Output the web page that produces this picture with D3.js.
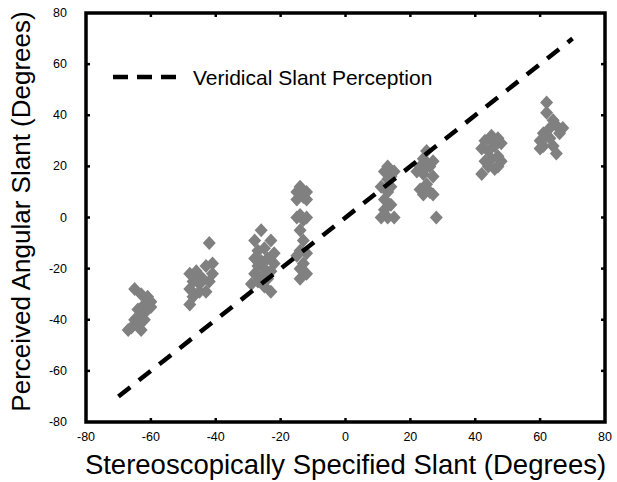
<!DOCTYPE html>
<html>
<head>
<meta charset="utf-8">
<script src="https://cdn.jsdelivr.net/npm/d3@7"></script>
<style>
  body { margin: 0; background: #fff; }
  text { font-family: "Liberation Sans", Arial, Helvetica, sans-serif; fill: #000; }
</style>
</head>
<body>
<div id="svg-area"></div>
<script>
// tick values for both axes
var xTicks = [-80, -60, -40, -20, 0, 20, 40, 60, 80];
var yTicks = [-80, -60, -40, -20, 0, 20, 40, 60, 80];

// veridical line end points (specified slant = perceived slant)
var veridical = [-70, 70];

// perceived slant for each specified slant condition, [specified, perceived]
var slant65 = [[-65, -28], [-63, -30], [-61, -31], [-60, -33], [-62, -34], [-64, -36], [-61, -36], [-63, -38],
    [-65, -40], [-62, -40], [-64, -42], [-66, -43], [-67, -44], [-63, -44], [-61, -32], [-60, -35]];
var slant45 = [[-42, -10], [-48, -22], [-46, -21], [-43, -19], [-41, -18], [-41, -22], [-44, -24], [-47, -25],
    [-45, -26], [-42, -25], [-48, -28], [-45, -29], [-47, -31], [-43, -29], [-48, -34], [-45, -23]];
var slant27 = [[-26, -5], [-28, -9], [-23, -9], [-27, -13], [-25, -12], [-22, -14], [-28, -16], [-26, -17],
    [-24, -16], [-22, -18], [-27, -19], [-25, -20], [-23, -21], [-28, -22], [-26, -23], [-24, -24],
    [-29, -26], [-27, -25], [-23, -29], [-25, -27]];
var slant13 = [[-14, 12], [-15, 10], [-12, 10], [-13, 8], [-15, 7], [-12, 7], [-14, 1], [-15, 0], [-12, 0],
    [-13, -1], [-14, -5], [-13, -9], [-14, -13], [-15, -15], [-12, -14], [-13, -18], [-14, -20], [-12, -22], [-14, -24]];
var slantP13 = [[13, 20], [12, 18], [15, 18], [13, 15], [11, 12], [14, 12], [13, 10], [12, 7], [14, 5],
    [11, 0], [13, 0], [15, 0], [12, 3], [14, 16]];
var slantP25 = [[25, 26], [24, 23], [27, 22], [23, 20], [26, 20], [24, 17], [27, 16], [25, 13], [23, 11],
    [26, 10], [24, 9], [27, 9], [22, 18], [28, 0], [25, 20]];
var slantP45 = [[43, 30], [45, 32], [47, 31], [42, 27], [44, 26], [46, 28], [48, 29], [43, 22], [45, 23],
    [47, 24], [44, 20], [46, 19], [48, 22], [42, 17], [45, 30], [47, 20]];
var slantP63 = [[62, 45], [62, 41], [64, 38], [65, 36], [67, 35], [61, 33], [60, 30], [63, 31], [61, 28],
    [64, 28], [62, 32], [65, 25], [63, 35], [66, 33], [60, 27]];

var allPoints = [].concat(slant65, slant45, slant27, slant13, slantP13, slantP25, slantP45, slantP63);

// define dimensions of svg container
var svgWidth = 617;
var svgHeight = 482;

var margin = { top: 13, right: 12, bottom: 60, left: 86 };
var chartWidth = svgWidth - margin.left - margin.right;
var chartHeight = svgHeight - margin.top - margin.bottom;

var svg = d3.select("#svg-area").append("svg")
    .attr("width", svgWidth)
    .attr("height", svgHeight);

var chartGroup = svg.append("g")
    .attr("transform", `translate(${margin.left}, ${margin.top})`);

// scales
var xLinearScale = d3.scaleLinear().domain([-80, 80]).range([0, chartWidth]);
var yLinearScale = d3.scaleLinear().domain([-80, 80]).range([chartHeight, 0]);

// inward ticks on all four sides
var tickLen = 4;
var innerTicks = xTicks.slice(1, -1);
var tickGroup = chartGroup.append("g").attr("stroke", "#000").attr("stroke-width", 2.5);

innerTicks.forEach(function (t) {
    tickGroup.append("line")
        .attr("x1", xLinearScale(t)).attr("x2", xLinearScale(t))
        .attr("y1", chartHeight).attr("y2", chartHeight - tickLen);
    tickGroup.append("line")
        .attr("x1", xLinearScale(t)).attr("x2", xLinearScale(t))
        .attr("y1", 0).attr("y2", tickLen);
    tickGroup.append("line")
        .attr("x1", 0).attr("x2", tickLen)
        .attr("y1", yLinearScale(t)).attr("y2", yLinearScale(t));
    tickGroup.append("line")
        .attr("x1", chartWidth).attr("x2", chartWidth - tickLen)
        .attr("y1", yLinearScale(t)).attr("y2", yLinearScale(t));
});

// tick labels
chartGroup.selectAll(".xlab")
    .data(xTicks)
    .enter()
    .append("text")
    .attr("class", "xlab")
    .attr("x", d => xLinearScale(d))
    .attr("y", chartHeight + 19)
    .attr("text-anchor", "middle")
    .attr("font-size", "12.5px")
    .text(d => d);

chartGroup.selectAll(".ylab")
    .data(yTicks)
    .enter()
    .append("text")
    .attr("class", "ylab")
    .attr("x", -19)
    .attr("y", d => yLinearScale(d) + 4)
    .attr("text-anchor", "end")
    .attr("font-size", "12.5px")
    .text(d => d);

// diamond markers
var diamond = "M0,-7L6.5,0L0,7L-6.5,0Z";
chartGroup.selectAll(".pt")
    .data(allPoints)
    .enter()
    .append("path")
    .attr("class", "pt")
    .attr("d", diamond)
    .attr("transform", d => `translate(${xLinearScale(d[0])}, ${yLinearScale(d[1])})`)
    .attr("fill", "#808080");

// veridical dashed line, drawn over the points
chartGroup.append("line")
    .attr("x1", xLinearScale(veridical[0]))
    .attr("y1", yLinearScale(veridical[0]))
    .attr("x2", xLinearScale(veridical[1]))
    .attr("y2", yLinearScale(veridical[1]))
    .attr("stroke", "#000")
    .attr("stroke-width", 4.5)
    .attr("stroke-dasharray", "15,11");

// frame
chartGroup.append("rect")
    .attr("x", 0)
    .attr("y", 0)
    .attr("width", chartWidth)
    .attr("height", chartHeight)
    .attr("fill", "none")
    .attr("stroke", "#000")
    .attr("stroke-width", 3.5);

// legend
var legendGroup = chartGroup.append("g")
    .attr("transform", "translate(27, 64)");

legendGroup.append("line")
    .attr("x1", 0).attr("x2", 63)
    .attr("y1", 0).attr("y2", 0)
    .attr("stroke", "#000")
    .attr("stroke-width", 4.5)
    .attr("stroke-dasharray", "15,9");

legendGroup.append("text")
    .attr("x", 80)
    .attr("y", 8)
    .attr("font-size", "21px")
    .text("Veridical Slant Perception");

// axis titles
svg.append("text")
    .attr("x", margin.left + chartWidth / 2)
    .attr("y", 474)
    .attr("text-anchor", "middle")
    .attr("font-size", "27.5px")
    .text("Stereoscopically Specified Slant (Degrees)");

svg.append("text")
    .attr("transform", `translate(30, ${margin.top + chartHeight / 2 - 6}) rotate(-90)`)
    .attr("text-anchor", "middle")
    .attr("font-size", "26px")
    .text("Perceived Angular Slant (Degrees)");
</script>
</body>
</html>
